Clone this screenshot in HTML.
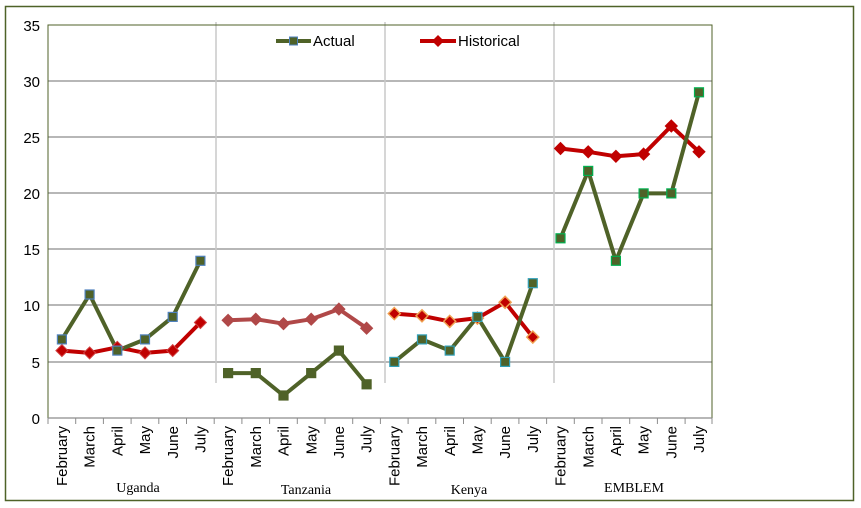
<!DOCTYPE html>
<html><head><meta charset="utf-8"><style>
body{margin:0;background:#fff;}
svg{display:block;}
text{font-family:"Liberation Sans",sans-serif;}
</style></head><body>
<svg width="861" height="508" viewBox="0 0 861 508" xmlns="http://www.w3.org/2000/svg">
<rect x="5.5" y="6.5" width="848" height="494" fill="#fff" stroke="#4f6228" stroke-width="1.5"/>
<g stroke="#8c8c8c" stroke-width="1.2">
<line x1="48" y1="81" x2="712" y2="81"/><line x1="48" y1="137" x2="712" y2="137"/>
<line x1="48" y1="193" x2="712" y2="193"/><line x1="48" y1="249" x2="712" y2="249"/>
<line x1="48" y1="305" x2="712" y2="305"/><line x1="48" y1="362" x2="712" y2="362"/>
</g>
<g stroke="#c8c8c8" stroke-width="1.5">
<line x1="216" y1="22" x2="216" y2="383"/><line x1="385" y1="22" x2="385" y2="383"/><line x1="554" y1="22" x2="554" y2="383"/>
</g>
<rect x="48" y="25" width="664" height="393" fill="none" stroke="#4f6228" stroke-width="1"/>
<line x1="48" y1="418" x2="712" y2="418" stroke="#8c8c8c" stroke-width="1.2"/>
<g stroke="#8c8c8c" stroke-width="1">
<line x1="48" y1="418" x2="48" y2="424"/><line x1="75.7" y1="418" x2="75.7" y2="424"/><line x1="103.4" y1="418" x2="103.4" y2="424"/><line x1="131.1" y1="418" x2="131.1" y2="424"/><line x1="158.8" y1="418" x2="158.8" y2="424"/><line x1="186.5" y1="418" x2="186.5" y2="424"/><line x1="214.2" y1="418" x2="214.2" y2="424"/><line x1="241.9" y1="418" x2="241.9" y2="424"/><line x1="269.6" y1="418" x2="269.6" y2="424"/><line x1="297.3" y1="418" x2="297.3" y2="424"/><line x1="325" y1="418" x2="325" y2="424"/><line x1="352.7" y1="418" x2="352.7" y2="424"/><line x1="380.4" y1="418" x2="380.4" y2="424"/><line x1="408.1" y1="418" x2="408.1" y2="424"/><line x1="435.8" y1="418" x2="435.8" y2="424"/><line x1="463.5" y1="418" x2="463.5" y2="424"/><line x1="491.2" y1="418" x2="491.2" y2="424"/><line x1="518.9" y1="418" x2="518.9" y2="424"/><line x1="546.6" y1="418" x2="546.6" y2="424"/><line x1="574.3" y1="418" x2="574.3" y2="424"/><line x1="602" y1="418" x2="602" y2="424"/><line x1="629.7" y1="418" x2="629.7" y2="424"/><line x1="657.4" y1="418" x2="657.4" y2="424"/><line x1="685.1" y1="418" x2="685.1" y2="424"/><line x1="712" y1="418" x2="712" y2="424"/>
</g>
<g font-size="15" fill="#000" text-anchor="end">
<text x="40" y="31">35</text><text x="40" y="87">30</text><text x="40" y="143">25</text><text x="40" y="199">20</text><text x="40" y="255">15</text><text x="40" y="311">10</text><text x="40" y="368">5</text><text x="40" y="424">0</text>
</g>
<g font-size="15" fill="#000" text-anchor="end">
<text transform="translate(67,426) rotate(-90)">February</text><text transform="translate(94.7,426) rotate(-90)">March</text><text transform="translate(122.4,426) rotate(-90)">April</text><text transform="translate(150.1,426) rotate(-90)">May</text><text transform="translate(177.8,426) rotate(-90)">June</text><text transform="translate(205.5,426) rotate(-90)">July</text>
<text transform="translate(233.2,426) rotate(-90)">February</text><text transform="translate(260.9,426) rotate(-90)">March</text><text transform="translate(288.6,426) rotate(-90)">April</text><text transform="translate(316.3,426) rotate(-90)">May</text><text transform="translate(344,426) rotate(-90)">June</text><text transform="translate(371.7,426) rotate(-90)">July</text>
<text transform="translate(399.4,426) rotate(-90)">February</text><text transform="translate(427.1,426) rotate(-90)">March</text><text transform="translate(454.8,426) rotate(-90)">April</text><text transform="translate(482.5,426) rotate(-90)">May</text><text transform="translate(510.2,426) rotate(-90)">June</text><text transform="translate(537.9,426) rotate(-90)">July</text>
<text transform="translate(565.6,426) rotate(-90)">February</text><text transform="translate(593.3,426) rotate(-90)">March</text><text transform="translate(621,426) rotate(-90)">April</text><text transform="translate(648.7,426) rotate(-90)">May</text><text transform="translate(676.4,426) rotate(-90)">June</text><text transform="translate(704.1,426) rotate(-90)">July</text>
</g>
<g font-size="14" fill="#000" text-anchor="middle">
<text x="138" y="492" style="font-family:'Liberation Serif',serif">Uganda</text><text x="306" y="494" style="font-family:'Liberation Serif',serif">Tanzania</text><text x="469" y="494" style="font-family:'Liberation Serif',serif">Kenya</text><text x="634" y="492" style="font-family:'Liberation Serif',serif">EMBLEM</text>
</g>
<g fill="none" stroke-width="4" stroke-linejoin="round">
<polyline stroke="#c00000" points="61.9,350.6 89.6,352.9 117.3,347.3 145,352.9 172.7,350.6 200.4,322.5"/>
<polyline stroke="#b04848" points="228.1,320.3 255.8,319.2 283.5,323.7 311.2,319.2 338.9,309.1 366.6,328.2"/>
<polyline stroke="#c00000" points="394.3,313.6 422,315.8 449.7,321.4 477.4,318.1 505.1,302.3 532.8,337.1"/>
<polyline stroke="#c00000" points="560.5,148.5 588.2,151.8 615.9,156.3 643.6,154.1 671.3,126 699,151.8"/>
</g>
<g fill="none" stroke="#4f6228" stroke-width="4" stroke-linejoin="round">
<polyline points="61.9,339.4 89.6,294.5 117.3,350.6 145,339.4 172.7,316.9 200.4,260.8"/>
<polyline points="228.1,373.1 255.8,373.1 283.5,395.5 311.2,373.1 338.9,350.6 366.6,384.3"/>
<polyline points="394.3,361.9 422,339.4 449.7,350.6 477.4,316.9 505.1,361.9 532.8,283.2"/>
<polyline points="560.5,238.3 588.2,170.9 615.9,260.8 643.6,193.4 671.3,193.4 699,92.3"/>
</g>
<g stroke-width="1">
<g fill="#c00000" stroke="#d04040">
<path d="M61.9,344.6l6,6l-6,6l-6,-6z"/><path d="M89.6,346.9l6,6l-6,6l-6,-6z"/><path d="M117.3,341.3l6,6l-6,6l-6,-6z"/><path d="M145,346.9l6,6l-6,6l-6,-6z"/><path d="M172.7,344.6l6,6l-6,6l-6,-6z"/><path d="M200.4,316.5l6,6l-6,6l-6,-6z"/>
</g>
<g fill="#b04848" stroke="#b04848">
<path d="M228.1,314.3l6,6l-6,6l-6,-6z"/><path d="M255.8,313.2l6,6l-6,6l-6,-6z"/><path d="M283.5,317.7l6,6l-6,6l-6,-6z"/><path d="M311.2,313.2l6,6l-6,6l-6,-6z"/><path d="M338.9,303.1l6,6l-6,6l-6,-6z"/><path d="M366.6,322.2l6,6l-6,6l-6,-6z"/>
</g>
<g fill="#c00000" stroke="#f0a050" stroke-width="1.5">
<path d="M394.3,307.6l6,6l-6,6l-6,-6z"/><path d="M422,309.8l6,6l-6,6l-6,-6z"/><path d="M449.7,315.4l6,6l-6,6l-6,-6z"/><path d="M477.4,312.1l6,6l-6,6l-6,-6z"/><path d="M505.1,296.3l6,6l-6,6l-6,-6z"/><path d="M532.8,331.1l6,6l-6,6l-6,-6z"/>
</g>
<g fill="#c00000" stroke="#c00000">
<path d="M560.5,142.5l6,6l-6,6l-6,-6z"/><path d="M588.2,145.8l6,6l-6,6l-6,-6z"/><path d="M615.9,150.3l6,6l-6,6l-6,-6z"/><path d="M643.6,148.1l6,6l-6,6l-6,-6z"/><path d="M671.3,120l6,6l-6,6l-6,-6z"/><path d="M699,145.8l6,6l-6,6l-6,-6z"/>
</g>
</g>
<g fill="#4f6228" stroke-width="1.2">
<g stroke="#4f81bd">
<rect x="57.4" y="334.9" width="9" height="9"/><rect x="85.1" y="290" width="9" height="9"/><rect x="112.8" y="346.1" width="9" height="9"/><rect x="140.5" y="334.9" width="9" height="9"/><rect x="168.2" y="312.4" width="9" height="9"/><rect x="195.9" y="256.3" width="9" height="9"/>
</g>
<g stroke="#4f6228">
<rect x="223.6" y="368.6" width="9" height="9"/><rect x="251.3" y="368.6" width="9" height="9"/><rect x="279" y="391" width="9" height="9"/><rect x="306.7" y="368.6" width="9" height="9"/><rect x="334.4" y="346.1" width="9" height="9"/><rect x="362.1" y="379.8" width="9" height="9"/>
</g>
<g stroke="#31a0b8">
<rect x="389.8" y="357.4" width="9" height="9"/><rect x="417.5" y="334.9" width="9" height="9"/><rect x="445.2" y="346.1" width="9" height="9"/><rect x="472.9" y="312.4" width="9" height="9"/><rect x="500.6" y="357.4" width="9" height="9"/><rect x="528.3" y="278.7" width="9" height="9"/>
</g>
<g stroke="#00b050">
<rect x="556" y="233.8" width="9" height="9"/><rect x="583.7" y="166.4" width="9" height="9"/><rect x="611.4" y="256.3" width="9" height="9"/><rect x="639.1" y="188.9" width="9" height="9"/><rect x="666.8" y="188.9" width="9" height="9"/><rect x="694.5" y="87.8" width="9" height="9"/>
</g>
</g>
<line x1="276" y1="41" x2="311" y2="41" stroke="#4f6228" stroke-width="4"/>
<rect x="289.5" y="37" width="8" height="8" fill="#4f6228" stroke="#4f81bd" stroke-width="1"/>
<text x="313" y="46" font-size="15" fill="#000">Actual</text>
<line x1="420" y1="41" x2="456" y2="41" stroke="#c00000" stroke-width="4"/>
<path d="M438,35l6,6l-6,6l-6,-6z" fill="#c00000"/>
<text x="458" y="46" font-size="15" fill="#000">Historical</text>
</svg>
</body></html>
